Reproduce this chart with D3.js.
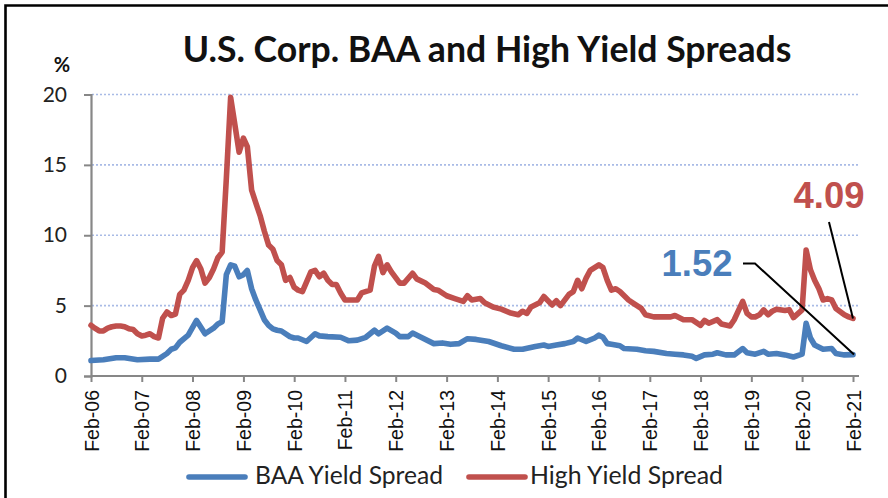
<!DOCTYPE html>
<html>
<head>
<meta charset="utf-8">
<script src="https://cdn.jsdelivr.net/npm/d3@7"></script>
<style>
  html, body { margin: 0; padding: 0; background: #fff; }
  svg { display: block; }
</style>
</head>
<body>
<svg id="chart" width="888" height="498"></svg>
<script>
// ---------------- DATA ----------------
const chartTitle = "U.S. Corp. BAA and High Yield Spreads";
const yUnit = "%";
const yTicks = [0, 5, 10, 15, 20];
const xTickDates = ["2006-02","2007-02","2008-02","2009-02","2010-02","2011-02","2012-02","2013-02","2014-02","2015-02","2016-02","2017-02","2018-02","2019-02","2020-02","2021-02"];
const seriesNames = ["BAA Yield Spread", "High Yield Spread"];

const baaDates = ["2006-02","2006-05","2006-08","2006-10","2007-01","2007-04","2007-06","2007-08","2007-09","2007-10","2007-11","2008-01","2008-03","2008-05","2008-07","2008-08","2008-09","2008-10","2008-11","2008-12","2009-01","2009-02","2009-03","2009-04","2009-05","2009-06","2009-07","2009-08","2009-09","2009-10","2009-11","2010-01","2010-02","2010-03","2010-05","2010-07","2010-08","2010-10","2011-01","2011-03","2011-05","2011-07","2011-09","2011-10","2011-12","2012-02","2012-03","2012-05","2012-06","2012-08","2012-11","2013-01","2013-03","2013-05","2013-07","2013-09","2013-12","2014-03","2014-06","2014-08","2014-11","2015-01","2015-02","2015-04","2015-06","2015-08","2015-09","2015-11","2016-01","2016-02","2016-03","2016-04","2016-05","2016-07","2016-08","2016-11","2017-01","2017-03","2017-06","2017-08","2017-10","2017-12","2018-01","2018-03","2018-05","2018-06","2018-08","2018-10","2018-12","2019-01","2019-03","2019-05","2019-06","2019-08","2019-10","2019-12","2020-02","2020-03","2020-04","2020-05","2020-07","2020-09","2020-10","2020-12","2021-02"];
const baaValues = [1.1,1.15,1.3,1.3,1.15,1.2,1.2,1.6,1.9,2.0,2.4,2.9,3.95,3.0,3.4,3.7,3.85,7.2,7.9,7.8,7.05,7.2,7.5,6.2,5.4,4.7,4.0,3.6,3.35,3.25,3.2,2.8,2.7,2.7,2.45,3.0,2.85,2.8,2.75,2.5,2.55,2.75,3.25,3.0,3.4,3.05,2.8,2.8,3.05,2.75,2.3,2.35,2.25,2.3,2.65,2.6,2.45,2.15,1.9,1.9,2.1,2.2,2.1,2.2,2.3,2.45,2.7,2.45,2.7,2.9,2.75,2.3,2.25,2.15,1.95,1.9,1.8,1.75,1.6,1.55,1.5,1.4,1.25,1.5,1.55,1.65,1.5,1.5,1.95,1.65,1.55,1.75,1.55,1.6,1.5,1.35,1.55,3.75,2.7,2.2,1.9,1.95,1.6,1.5,1.52];

const hyDates = ["2006-02","2006-03","2006-04","2006-05","2006-06","2006-07","2006-08","2006-09","2006-10","2006-11","2006-12","2007-01","2007-02","2007-03","2007-04","2007-05","2007-06","2007-07","2007-08","2007-09","2007-10","2007-11","2007-12","2008-01","2008-02","2008-03","2008-04","2008-05","2008-06","2008-07","2008-08","2008-09","2008-10","2008-11","2008-12","2009-01","2009-02","2009-03","2009-04","2009-05","2009-06","2009-07","2009-08","2009-09","2009-10","2009-11","2009-12","2010-01","2010-02","2010-03","2010-04","2010-06","2010-07","2010-08","2010-09","2010-10","2010-11","2010-12","2011-01","2011-02","2011-05","2011-06","2011-08","2011-09","2011-10","2011-11","2011-12","2012-01","2012-03","2012-04","2012-06","2012-07","2012-09","2012-11","2012-12","2013-02","2013-04","2013-06","2013-07","2013-08","2013-10","2013-11","2014-01","2014-03","2014-05","2014-07","2014-08","2014-09","2014-10","2014-12","2015-01","2015-03","2015-04","2015-05","2015-07","2015-08","2015-09","2015-10","2015-11","2015-12","2016-02","2016-03","2016-04","2016-05","2016-06","2016-07","2016-09","2016-10","2016-12","2017-01","2017-03","2017-04","2017-07","2017-08","2017-10","2017-12","2018-02","2018-03","2018-04","2018-06","2018-07","2018-09","2018-10","2018-12","2019-01","2019-02","2019-03","2019-04","2019-05","2019-06","2019-07","2019-08","2019-10","2019-11","2019-12","2020-02","2020-03","2020-04","2020-05","2020-06","2020-07","2020-08","2020-09","2020-10","2020-12","2021-01","2021-02"];
const hyValues = [3.6,3.4,3.2,3.2,3.4,3.5,3.55,3.55,3.5,3.35,3.3,3.0,2.85,2.9,3.0,2.8,2.7,4.1,4.55,4.3,4.4,5.8,6.1,6.8,7.7,8.2,7.6,6.6,7.0,7.6,8.4,8.8,14.0,19.8,17.9,15.9,16.9,16.3,13.2,12.3,11.4,10.3,9.3,9.0,8.2,7.9,6.8,7.0,6.3,6.1,6.0,7.4,7.5,7.05,7.3,6.8,6.5,6.5,5.9,5.4,5.4,5.9,6.1,7.8,8.5,7.35,7.9,7.4,6.6,6.6,7.3,6.9,6.6,6.15,6.1,5.7,5.5,5.3,5.7,5.4,5.5,5.2,4.9,4.75,4.5,4.35,4.6,4.45,4.9,5.2,5.65,5.05,5.35,5.0,5.8,6.0,6.8,6.2,6.95,7.5,7.9,7.7,6.8,6.1,6.2,6.0,5.4,5.2,4.8,4.35,4.2,4.2,4.2,4.3,4.0,4.0,3.6,3.95,3.75,4.0,3.7,3.55,4.0,5.3,4.45,4.2,4.2,4.35,4.7,4.35,4.6,4.75,4.65,4.7,4.15,4.7,8.95,7.55,6.8,6.2,5.4,5.5,5.4,4.8,4.35,4.2,4.09];

const annotations = [
  { label: "4.09", series: 1, date: "2021-02" },
  { label: "1.52", series: 0, date: "2021-02" }
];

// ---------------- STYLE ----------------
const colors = ["#4a7ebb", "#c0504d"];
const parse = d3.timeParse("%Y-%m");
const fmt = d3.timeFormat("%b-%y");

const svg = d3.select("#chart");
const W = 888, H = 498;

const x = d3.scaleTime()
  .domain([parse("2006-02"), parse("2021-02")])
  .range([91, 853]);
const y = d3.scaleLinear().domain([0, 20]).range([376, 94.5]);

// frame (left and top edges)
svg.append("path")
  .attr("d", `M5.5,${H} V5.5 H${W}`)
  .attr("fill", "none").attr("stroke", "#000").attr("stroke-width", 2.6);

// gridlines
svg.append("g").selectAll("line")
  .data(yTicks.filter(d => d > 0))
  .join("line")
  .attr("x1", 92).attr("x2", 858)
  .attr("y1", d => y(d)).attr("y2", d => y(d))
  .attr("stroke", "#a9bbe6").attr("stroke-width", 1.6)
  .attr("stroke-dasharray", "2,2");

// y axis
const yAxis = svg.append("g").attr("transform", "translate(91,0)")
  .call(d3.axisLeft(y).tickValues(yTicks).tickSize(7).tickPadding(17));
yAxis.select(".domain").attr("stroke", "#878787").attr("stroke-width", 2.2);
yAxis.selectAll(".tick line").attr("stroke", "#878787").attr("stroke-width", 2);
yAxis.selectAll(".tick text")
  .attr("font-family", "Lato, 'Open Sans', sans-serif")
  .attr("font-size", 21).attr("fill", "#222");

// x axis
const xAxis = svg.append("g").attr("transform", "translate(0,376)")
  .call(d3.axisBottom(x).tickValues(xTickDates.map(parse)).tickFormat(fmt).tickSize(6).tickSizeOuter(0));
xAxis.select(".domain").attr("stroke", "#878787").attr("stroke-width", 2.2)
  .attr("d", "M91,0H859");
xAxis.selectAll(".tick line").attr("stroke", "#878787").attr("stroke-width", 2);
xAxis.selectAll(".tick text")
  .attr("font-family", "'Liberation Sans', Arial, sans-serif")
  .attr("font-size", 19.5).attr("fill", "#111")
  .attr("text-anchor", "end")
  .attr("dy", "0.36em")
  .attr("transform", "translate(0,14) rotate(-90)")
  .attr("x", 0).attr("y", 0);

// lines
const line = d3.line().x(d => x(d.date)).y(d => y(d.value)).curve(d3.curveLinear);
const seriesData = [
  baaDates.map((d, i) => ({ date: parse(d), value: baaValues[i] })),
  hyDates.map((d, i) => ({ date: parse(d), value: hyValues[i] }))
];
[1, 0].forEach(i => {
  svg.append("path")
    .datum(seriesData[i])
    .attr("d", line)
    .attr("fill", "none")
    .attr("stroke", colors[i])
    .attr("stroke-width", 5.6)
    .attr("stroke-linejoin", "round")
    .attr("stroke-linecap", "round");
});

// annotations
function fitText(sel, targetW) {
  const node = sel.node();
  const fs = parseFloat(sel.attr("font-size"));
  const w = node.getComputedTextLength();
  if (w > 0) sel.attr("font-size", fs * targetW / w);
}
const aHY = annotations[0], aBAA = annotations[1];
const hyEnd = [x(parse(aHY.date)), y(hyValues[hyValues.length - 1])];
const baaEnd = [x(parse(aBAA.date)), y(baaValues[baaValues.length - 1])];

svg.append("path")
  .attr("d", `M829,222 L${hyEnd[0]},${hyEnd[1]}`)
  .attr("stroke", "#000").attr("stroke-width", 2).attr("fill", "none");
svg.append("path")
  .attr("d", `M743,263.5 H755 L${baaEnd[0] + 1},${baaEnd[1]}`)
  .attr("stroke", "#000").attr("stroke-width", 2).attr("fill", "none");

const t1 = svg.append("text")
  .attr("x", 829).attr("y", 208).attr("text-anchor", "middle")
  .attr("font-family", "'Liberation Sans', Arial, sans-serif")
  .attr("font-weight", "bold").attr("font-size", 33)
  .attr("fill", colors[1]).text(aHY.label);
fitText(t1, 71);
const t2 = svg.append("text")
  .attr("x", 697).attr("y", 276).attr("text-anchor", "middle")
  .attr("font-family", "'Liberation Sans', Arial, sans-serif")
  .attr("font-weight", "bold").attr("font-size", 33)
  .attr("fill", colors[0]).text(aBAA.label);
fitText(t2, 71);

// title
const title = svg.append("text")
  .attr("x", 487).attr("y", 62).attr("text-anchor", "middle")
  .attr("font-family", "Lato, 'Open Sans', sans-serif")
  .attr("font-weight", "bold").attr("font-size", 30)
  .attr("fill", "#111").text(chartTitle);
fitText(title, 609);

svg.append("text")
  .attr("x", 62).attr("y", 72).attr("text-anchor", "middle")
  .attr("font-family", "Lato, 'Open Sans', sans-serif")
  .attr("font-weight", "bold").attr("font-size", 20)
  .attr("fill", "#111").text(yUnit);

// legend
const legendItems = [
  { name: seriesNames[0], color: colors[0], x1: 189, x2: 245, tx: 255, tw: 188 },
  { name: seriesNames[1], color: colors[1], x1: 469, x2: 525, tx: 530, tw: 193 }
];
legendItems.forEach(it => {
  svg.append("line")
    .attr("x1", it.x1).attr("x2", it.x2).attr("y1", 477).attr("y2", 477)
    .attr("stroke", it.color).attr("stroke-width", 5.6).attr("stroke-linecap", "round");
  const t = svg.append("text")
    .attr("x", it.tx).attr("y", 484)
    .attr("font-family", "Lato, 'Open Sans', sans-serif")
    .attr("font-size", 21).attr("fill", "#222").text(it.name);
  fitText(t, it.tw);
});
</script>
</body>
</html>
